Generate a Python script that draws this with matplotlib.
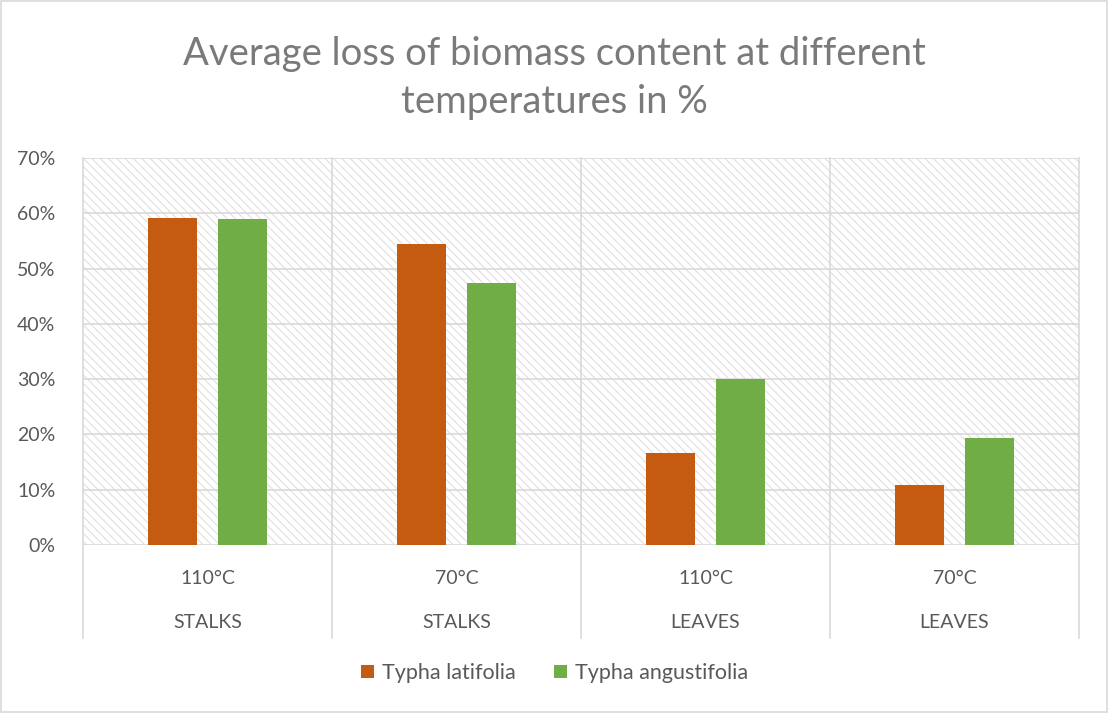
import matplotlib
import numpy as np
from matplotlib import pyplot as plt
from matplotlib.patches import Rectangle
from matplotlib.ticker import PercentFormatter

matplotlib.rc('font', family='Lato')
matplotlib.rcParams['hatch.linewidth'] = 0.7

# values (percent)
temps = ['110°C', '70°C', '110°C', '70°C']
parts = ['STALKS', 'STALKS', 'LEAVES', 'LEAVES']
latifolia = [59.1, 54.5, 16.7, 10.9]
angustifolia = [58.9, 47.4, 30.0, 19.3]
series_names = ['Typha latifolia', 'Typha angustifolia']

ORANGE = '#C55A11'
GREEN = '#70AD47'
GRID = '#d9d9d9'
TXT = '#595959'

W, H = 1109, 713
fig = plt.figure(figsize=(W / 100, H / 100), dpi=100)
ax = fig.add_axes([83 / W, 1 - 545 / H, (1079 - 83) / W, (545 - 158) / H])

# hatched plot area background
bg = Rectangle((0, 0), 1, 1, transform=ax.transAxes, facecolor='white',
               edgecolor='#dcdcdc', hatch='\\\\\\\\', lw=0, zorder=0)
ax.add_patch(bg)
ax.patch.set_visible(False)

x = np.arange(len(temps)) + 0.5
bw = 0.197
off = 0.14
ax.bar(x - off, latifolia, bw, color=ORANGE, label=series_names[0], zorder=3)
ax.bar(x + off, angustifolia, bw, color=GREEN, label=series_names[1], zorder=3)

ax.set_xlim(0, len(temps))
ax.set_ylim(0, 70)
ax.set_yticks(np.arange(0, 71, 10))
ax.yaxis.set_major_formatter(PercentFormatter(decimals=0))
ax.tick_params(axis='y', length=0, pad=20, labelsize=14, labelcolor=TXT)
ax.set_xticks([])
for s in ax.spines.values():
    s.set_visible(False)
ax.grid(axis='y', color=GRID, lw=1.2, zorder=1)
ax.set_axisbelow(True)

# category separators, run down through the label area
ybot = -(638 - 545) / (545 - 158)
for xv in range(len(temps) + 1):
    ax.plot([xv, xv], [1, ybot], transform=ax.get_xaxis_transform(),
            color=GRID, lw=1.2, clip_on=False, zorder=1)

for xi, t, p in zip(x, temps, parts):
    ax.text(xi, -(578 - 545) / 387, t, transform=ax.get_xaxis_transform(),
            ha='center', va='center', fontsize=14, color=TXT)
    ax.text(xi, -(622 - 545) / 387, p, transform=ax.get_xaxis_transform(),
            ha='center', va='center', fontsize=14, color=TXT)

fig.text(0.5, 1 - 78 / H, 'Average loss of biomass content at different\ntemperatures in %',
         ha='center', va='center', fontsize=27.5, color='#7a7a7a', linespacing=1.38)

fig.legend(loc='center', bbox_to_anchor=(0.5, 1 - 673 / H), ncol=2, frameon=False,
           fontsize=15.5, handlelength=0.6, handleheight=0.6, handletextpad=0.35,
           columnspacing=1.8, labelcolor=TXT)

fig.add_artist(Rectangle((0.001, 0.002), 0.997, 0.996, transform=fig.transFigure,
                         fill=False, edgecolor=GRID, lw=1.2))

fig.savefig('out.png', dpi=100)
